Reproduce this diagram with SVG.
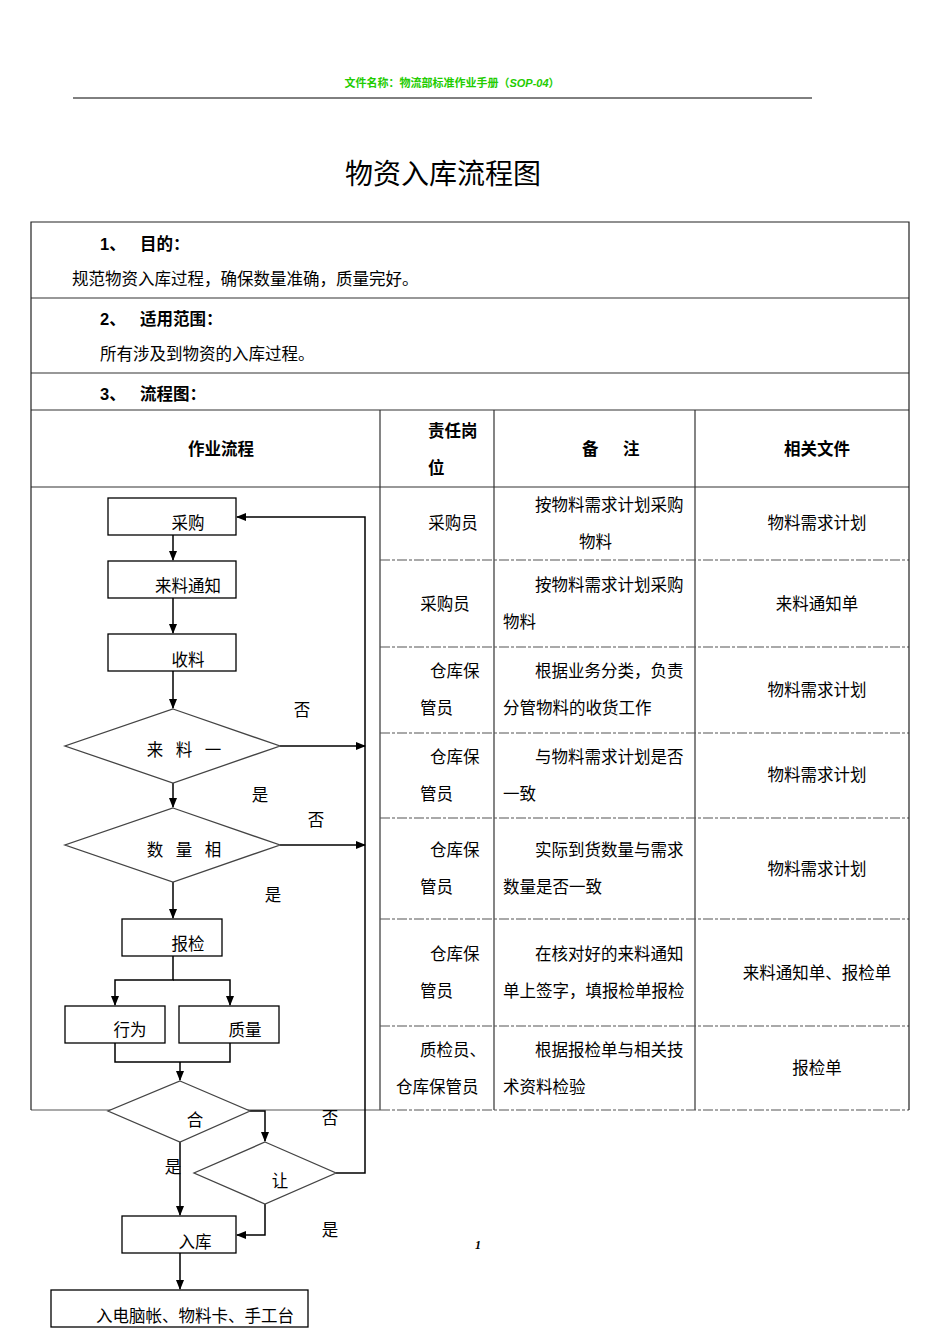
<svg xmlns="http://www.w3.org/2000/svg" width="945" height="1337" viewBox="0 0 945 1337">
<style>
.t{font-family:"Liberation Sans","Noto Sans CJK SC",sans-serif;font-size:16.5px;fill:#000}
.b{font-weight:bold}
.c{text-anchor:middle}
.tb{stroke:#333;stroke-width:1.2;fill:none}
.dash{stroke:#555;stroke-width:1.2;stroke-dasharray:10 2 3 2;fill:none}
.box{fill:#fff;stroke:#000;stroke-width:1.3}
.dia{fill:#fff;stroke:#444;stroke-width:1.3}
.ln{stroke:#000;stroke-width:1.5;fill:none}
.ar{stroke:#000;stroke-width:1.5;fill:none;marker-end:url(#ah)}
</style>
<defs>
<marker id="ah" markerWidth="10" markerHeight="10" refX="9" refY="5" orient="auto" markerUnits="userSpaceOnUse">
<path d="M0,1 L10,5 L0,9 Z" fill="#000"/>
</marker>
</defs>
<rect width="945" height="1337" fill="#fff"/>
<text x="452" y="87" class="t c b" style="font-size:11px;fill:#22cc00">文件名称：物流部标准作业手册（<tspan font-style="italic">SOP-04</tspan>）</text>
<line x1="73" y1="98" x2="812" y2="98" stroke="#000" stroke-width="1"/>
<text x="443" y="184" class="c" style="font-family:'Noto Sans CJK SC',sans-serif;font-size:28px;fill:#000">物资入库流程图</text>

<g id="table">
<line x1="31" y1="298" x2="909" y2="298" class="tb"/>
<line x1="31" y1="373" x2="909" y2="373" class="tb"/>
<line x1="31" y1="410" x2="909" y2="410" class="tb"/>
<line x1="31" y1="487" x2="909" y2="487" class="tb"/>
<line x1="380" y1="410" x2="380" y2="1110" class="tb"/>
<line x1="494" y1="410" x2="494" y2="1110" class="tb"/>
<line x1="695" y1="410" x2="695" y2="1110" class="tb"/>
<line x1="380" y1="560" x2="909" y2="560" class="dash"/>
<line x1="380" y1="647" x2="909" y2="647" class="dash"/>
<line x1="380" y1="733" x2="909" y2="733" class="dash"/>
<line x1="380" y1="818" x2="909" y2="818" class="dash"/>
<line x1="380" y1="919" x2="909" y2="919" class="dash"/>
<line x1="380" y1="1026" x2="909" y2="1026" class="dash"/>
<line x1="31" y1="1110" x2="380" y2="1110" stroke="#555" stroke-width="1.2"/>
<line x1="380" y1="1110" x2="909" y2="1110" class="dash"/>
<polyline points="31,1110 31,222 909,222 909,1110" fill="none" stroke="#222" stroke-width="1.2"/>
</g>

<g id="sections">
<text x="100" y="250" class="t b">1、</text><text x="140" y="250" class="t b">目的：</text>
<text x="72" y="285" class="t">规范物资入库过程，确保数量准确，质量完好。</text>
<text x="100" y="325" class="t b">2、</text><text x="140" y="325" class="t b">适用范围：</text>
<text x="100" y="360" class="t">所有涉及到物资的入库过程。</text>
<text x="100" y="400" class="t b">3、</text><text x="140" y="400" class="t b">流程图：</text>
</g>

<g id="header">
<text x="221" y="455" class="t c b">作业流程</text>
<text x="428" y="437" class="t b">责任岗</text>
<text x="428" y="474" class="t b">位</text>
<text x="582" y="455" class="t b">备</text><text x="623" y="455" class="t b">注</text>
<text x="817" y="455" class="t c b">相关文件</text>
</g>

<g id="rows">
<text x="453" y="529" class="t c">采购员</text>
<text x="535" y="511" class="t">按物料需求计划采购</text>
<text x="579" y="548" class="t">物料</text>
<text x="817" y="529" class="t c">物料需求计划</text>

<text x="445" y="610" class="t c">采购员</text>
<text x="535" y="591" class="t">按物料需求计划采购</text>
<text x="503" y="628" class="t">物料</text>
<text x="817" y="610" class="t c">来料通知单</text>

<text x="430" y="677" class="t">仓库保</text>
<text x="420" y="714" class="t">管员</text>
<text x="535" y="677" class="t">根据业务分类，负责</text>
<text x="503" y="714" class="t">分管物料的收货工作</text>
<text x="817" y="696" class="t c">物料需求计划</text>

<text x="430" y="763" class="t">仓库保</text>
<text x="420" y="800" class="t">管员</text>
<text x="535" y="763" class="t">与物料需求计划是否</text>
<text x="503" y="800" class="t">一致</text>
<text x="817" y="781" class="t c">物料需求计划</text>

<text x="430" y="856" class="t">仓库保</text>
<text x="420" y="893" class="t">管员</text>
<text x="535" y="856" class="t">实际到货数量与需求</text>
<text x="503" y="893" class="t">数量是否一致</text>
<text x="817" y="875" class="t c">物料需求计划</text>

<text x="430" y="960" class="t">仓库保</text>
<text x="420" y="997" class="t">管员</text>
<text x="535" y="960" class="t">在核对好的来料通知</text>
<text x="503" y="997" class="t">单上签字，填报检单报检</text>
<text x="817" y="979" class="t c">来料通知单、报检单</text>

<text x="420" y="1056" class="t">质检员、</text>
<text x="396" y="1093" class="t">仓库保管员</text>
<text x="535" y="1056" class="t">根据报检单与相关技</text>
<text x="503" y="1093" class="t">术资料检验</text>
<text x="817" y="1074" class="t c">报检单</text>
</g>

<g id="connectors">
<line x1="173" y1="535" x2="173" y2="560" class="ar"/>
<line x1="173" y1="598" x2="173" y2="633" class="ar"/>
<line x1="173" y1="671" x2="173" y2="708" class="ar"/>
<line x1="280" y1="746" x2="365" y2="746" class="ar"/>
<line x1="173" y1="783" x2="173" y2="807" class="ar"/>
<line x1="280" y1="845" x2="365" y2="845" class="ar"/>
<line x1="173" y1="882" x2="173" y2="918" class="ar"/>
<polyline points="173,956 173,980 115,980 115,1005" class="ar"/>
<polyline points="173,980 230,980 230,1005" class="ar"/>
<polyline points="115,1043 115,1062 230,1062 230,1043" class="ln"/>
<line x1="180" y1="1062" x2="180" y2="1080" class="ar"/>
<polyline points="250,1111 265,1111 265,1141" class="ar"/>
<line x1="180" y1="1142" x2="180" y2="1215" class="ar"/>
<polyline points="265,1204 265,1235 237,1235" class="ar"/>
<polyline points="336,1173 365,1173 365,517 237,517" class="ar"/>
<line x1="180" y1="1253" x2="180" y2="1289" class="ar"/>
</g>

<g id="labels">
<text x="302" y="716" class="t c">否</text>
<text x="260" y="801" class="t c">是</text>
<text x="316" y="826" class="t c">否</text>
<text x="273" y="901" class="t c">是</text>
<text x="330" y="1124" class="t c">否</text>
<text x="173" y="1173" class="t c">是</text>
<text x="330" y="1236" class="t c">是</text>
</g>

<g id="n-caigou"><rect x="108" y="498" width="128" height="37" class="box"/><text x="188" y="529" class="t c">采购</text></g>
<g id="n-tongzhi"><rect x="108" y="561" width="128" height="37" class="box"/><text x="188" y="592" class="t c">来料通知</text></g>
<g id="n-shouliao"><rect x="108" y="634" width="128" height="37" class="box"/><text x="188" y="666" class="t c">收料</text></g>
<g id="n-d1"><polygon points="173,709 280,746 173,783 65,746" class="dia"/><text x="186" y="756" class="t c" letter-spacing="4">来 料 一</text></g>
<g id="n-d2"><polygon points="173,808 280,845 173,882 65,845" class="dia"/><text x="186" y="856" class="t c" letter-spacing="4">数 量 相</text></g>
<g id="n-baojian"><rect x="122" y="919" width="100" height="37" class="box"/><text x="188" y="950" class="t c">报检</text></g>
<g id="n-xingwei"><rect x="65" y="1006" width="100" height="37" class="box"/><text x="130" y="1036" class="t c">行为</text></g>
<g id="n-zhiliang"><rect x="179" y="1006" width="100" height="37" class="box"/><text x="245" y="1036" class="t c">质量</text></g>
<g id="n-d3"><polygon points="180,1081 250,1111 180,1142 108,1111" class="dia"/><text x="195" y="1126" class="t c">合</text></g>
<g id="n-d4"><polygon points="265,1142 336,1173 265,1204 194,1173" class="dia"/><text x="280" y="1187" class="t c">让</text></g>
<g id="n-ruku"><rect x="122" y="1216" width="114" height="37" class="box"/><text x="195" y="1248" class="t c">入库</text></g>
<g id="n-final"><rect x="51" y="1290" width="257" height="37" class="box"/><text x="195" y="1322" class="t c">入电脑帐、物料卡、手工台</text></g>

<text x="478" y="1249" class="c" style="font-family:'Liberation Serif',serif;font-style:italic;font-weight:bold;font-size:12px;fill:#000">1</text>
</svg>
